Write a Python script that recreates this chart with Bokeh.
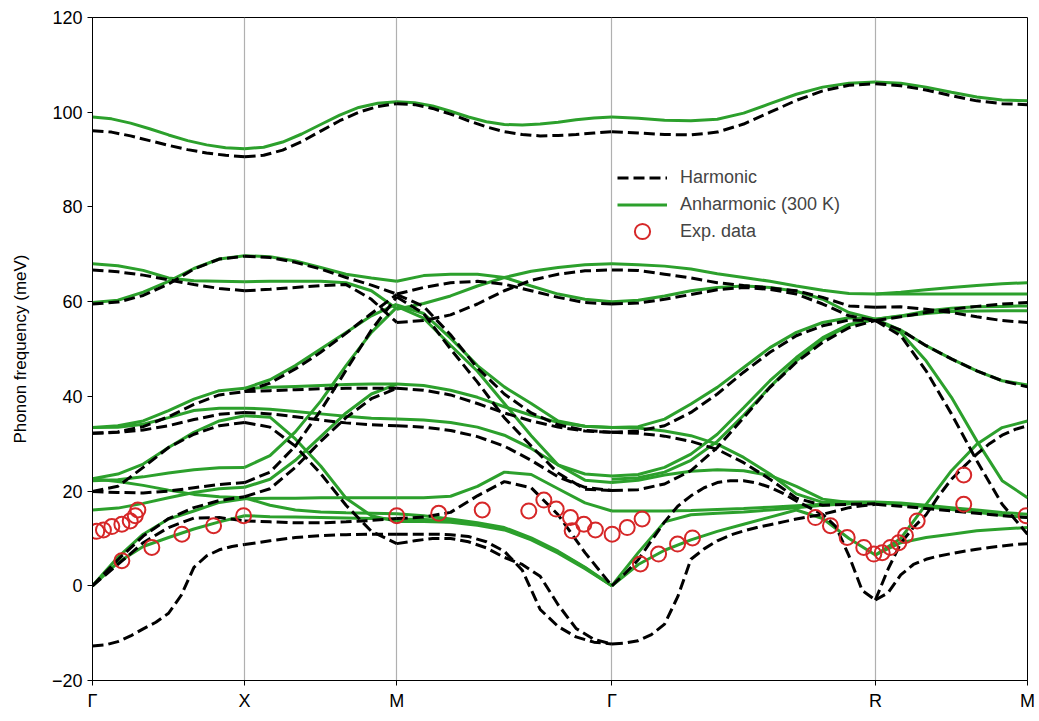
import numpy as np
from bokeh.plotting import figure
from bokeh.models import FixedTicker, Legend, LegendItem, Range1d
from bokeh.embed import file_html
from bokeh.resources import INLINE

# ---------------- data ----------------
node_labels = ["Γ", "X", "M", "Γ", "R", "M"]
seg_lengths = [1.0, 1.0, np.sqrt(2.0), np.sqrt(3.0), 1.0]

# Each segment: list of curves; each curve = energies (meV) at evenly spaced q along the segment
harm_GX = [
    [96.1, 95.8, 95.0, 94.0, 93.0, 92.1, 91.4, 90.9, 90.6],
    [66.7, 66.3, 65.6, 64.6, 63.6, 62.8, 62.3],
    [59.5, 59.9, 61.3, 63.7, 66.9, 69.0, 69.6],
    [32.2, 32.5, 33.6, 35.7, 38.3, 40.3, 41.0],
    [32.2, 32.4, 32.9, 33.8, 35.1, 36.2, 36.6],
    [19.9, 21.0, 25.0, 29.2, 32.0, 33.8, 34.5],
    [19.9, 19.7, 19.6, 20.0, 20.7, 21.4, 21.8],
    [0.0, 5.5, 10.5, 14.2, 16.5, 18.0, 18.8],
    [0.0, 4.5, 9.1, 12.3, 14.3, 14.4, 13.7],
    [-12.7, -12.5, -11.8, -10.6, -9.1, -7.7, -5.8, -2.0, 3.9, 6.3, 7.6, 8.3, 8.7],
]
anh_GX = [
    [99.0, 98.6, 97.7, 96.5, 95.2, 94.0, 93.1, 92.5, 92.3],
    [68.0, 67.6, 66.6, 65.0, 64.4, 64.3, 64.2],
    [59.8, 60.3, 62.0, 64.3, 67.0, 69.0, 69.7],
    [33.4, 33.8, 34.8, 37.0, 39.4, 41.2, 41.7],
    [33.4, 33.5, 34.1, 35.5, 37.0, 37.5, 37.5],
    [22.6, 23.6, 25.7, 29.2, 32.4, 34.8, 35.9],
    [22.2, 22.4, 23.0, 23.8, 24.5, 24.9, 25.0],
    [22.6, 22.0, 21.2, 20.2, 19.3, 18.8, 18.6],
    [16.0, 16.4, 17.4, 18.6, 19.7, 20.5, 20.8],
    [0.0, 6.0, 10.9, 14.1, 15.8, 17.6, 18.4],
    [0.0, 4.9, 8.3, 10.2, 12.0, 13.5, 14.8],
]
harm_XM = [
    [90.6, 90.9, 92.0, 93.8, 96.0, 98.2, 100.0, 101.2, 101.8],
    [69.6, 69.3, 68.3, 66.9, 65.1, 63.5, 61.6],
    [62.3, 62.6, 63.0, 63.4, 63.6, 60.5, 55.6],
    [41.0, 41.2, 41.4, 41.6, 41.7, 41.7, 41.7],
    [41.0, 42.8, 45.8, 49.3, 53.3, 57.5, 61.5],
    [36.6, 36.3, 35.7, 35.0, 34.4, 34.0, 33.8],
    [34.5, 33.5, 29.5, 23.7, 17.0, 11.5, 8.9],
    [21.8, 24.0, 29.5, 37.0, 45.5, 54.0, 61.0],
    [18.8, 20.5, 25.0, 30.5, 35.5, 39.5, 41.7],
    [13.7, 13.5, 13.3, 13.3, 13.5, 13.8, 14.2],
    [8.7, 9.5, 10.2, 10.6, 10.8, 10.9, 10.9],
]
anh_XM = [
    [92.3, 92.6, 93.7, 95.4, 97.4, 99.4, 101.0, 101.9, 102.2],
    [69.7, 69.5, 68.6, 67.2, 65.8, 65.0, 64.3],
    [64.2, 64.3, 64.3, 64.3, 64.0, 62.3, 58.5],
    [41.7, 41.9, 42.1, 42.3, 42.5, 42.6, 42.6],
    [41.7, 43.5, 46.5, 50.0, 53.5, 57.0, 59.5],
    [37.5, 37.3, 36.8, 36.3, 35.8, 35.4, 35.2],
    [35.9, 35.6, 31.0, 25.3, 18.5, 14.8, 13.6],
    [25.0, 27.5, 32.5, 39.0, 46.5, 53.5, 58.8],
    [20.8, 22.5, 26.5, 31.5, 36.5, 40.5, 42.6],
    [18.4, 18.5, 18.5, 18.6, 18.6, 18.6, 18.6],
    [18.6, 17.0, 16.0, 15.6, 15.4, 15.3, 15.2],
    [14.8, 14.6, 14.5, 14.4, 14.3, 14.2, 14.1],
]
harm_MG = [
    [101.8, 101.6, 100.8, 99.6, 98.2, 96.9, 95.9, 95.3, 95.0, 95.1, 95.3, 95.6, 95.9],
    [61.6, 63.0, 64.0, 64.3, 63.7, 62.3, 60.9, 59.8, 59.5],
    [55.6, 56.0, 57.2, 59.5, 62.3, 64.5, 65.8, 66.5, 66.7],
    [61.5, 59.0, 53.0, 46.0, 40.5, 36.5, 34.0, 32.8, 32.4],
    [61.0, 57.5, 50.0, 43.0, 35.5, 29.5, 23.8, 20.4, 20.1],
    [41.7, 41.3, 40.3, 38.5, 36.5, 34.8, 33.5, 32.7, 32.4],
    [33.8, 33.5, 32.8, 31.5, 29.5, 26.5, 23.0, 20.8, 20.1],
    [14.2, 14.5, 15.5, 19.0, 22.0, 20.7, 15.0, 7.0, 0.0],
    [10.9, 10.9, 10.9, 10.8, 10.4, 9.3, 7.3, 3.3, -5.0, -8.6, -10.8, -11.9, -12.3],
    [8.9, 9.5, 10.0, 10.0, 9.3, 8.0, 6.0, 4.5, 2.0, -4.0, -9.0, -11.3, -12.3],
]
anh_MG = [
    [102.2, 102.0, 101.3, 100.2, 99.0, 98.0, 97.4, 97.3, 97.5, 97.9, 98.4, 98.8, 99.0],
    [64.3, 65.5, 65.8, 65.8, 65.1, 63.3, 61.6, 60.5, 60.0],
    [58.4, 59.6, 61.2, 63.3, 65.1, 66.4, 67.2, 67.8, 68.0],
    [59.3, 57.5, 52.3, 46.5, 42.0, 38.5, 34.8, 33.7, 33.4],
    [59.0, 56.5, 50.8, 45.3, 38.5, 31.7, 25.5, 22.3, 21.8],
    [42.6, 42.3, 41.3, 39.8, 37.8, 36.0, 34.5, 33.7, 33.4],
    [35.2, 35.0, 34.5, 33.5, 31.8, 29.0, 25.5, 23.6, 23.2],
    [18.6, 18.6, 18.9, 21.0, 24.0, 23.5, 20.5, 17.5, 15.8],
    [15.2, 14.8, 14.1, 13.3, 12.3, 10.1, 7.3, 3.9, 0.0],
    [14.1, 14.0, 13.8, 13.1, 12.1, 9.9, 7.1, 3.8, 0.0],
    [13.6, 13.6, 13.4, 12.8, 11.8, 9.7, 6.9, 3.6, 0.0],
]
harm_GR = [
    [95.9, 95.6, 95.3, 95.2, 95.8, 97.5, 100.0, 102.5, 104.5, 105.7, 106.0],
    [66.7, 66.6, 65.8, 65.0, 64.0, 63.4, 62.9, 62.3, 60.9, 59.1, 58.8],
    [59.5, 59.7, 60.5, 61.5, 62.5, 63.0, 62.6, 61.6, 59.5, 57.0, 56.0],
    [32.4, 32.7, 33.8, 36.6, 40.5, 45.1, 49.3, 52.8, 54.9, 56.1, 56.0],
    [20.1, 20.3, 21.5, 24.3, 29.2, 35.5, 41.9, 47.2, 51.4, 54.5, 56.0],
    [32.4, 32.2, 31.6, 30.5, 28.8, 26.0, 22.5, 18.5, 17.0, 17.2, 17.3],
    [0.0, 2.6, 5.5, 9.5, 13.5, 16.8, 19.0, 20.7, 21.8, 22.2, 22.2,
     21.7, 20.8, 19.5, 17.9, 16.5, 15.1, 12.5, 6.3, -1.0, -3.0],
    [-12.3, -12.1, -11.6, -10.3, -8.1, -2.3, 5.6, 7.8, 9.5, 10.7, 11.6,
     12.3, 12.9, 13.5, 14.1, 14.6, 15.1, 15.8, 16.5, 16.9, 17.2],
]
anh_GR = [
    [99.0, 98.7, 98.3, 98.2, 98.5, 99.8, 101.8, 103.8, 105.3, 106.1, 106.4],
    [68.0, 67.8, 67.5, 66.9, 65.9, 65.1, 64.3, 63.3, 62.4, 61.7, 61.6],
    [60.0, 60.3, 61.2, 62.3, 63.0, 63.3, 63.0, 62.2, 60.5, 57.7, 56.3],
    [33.4, 33.6, 35.2, 38.4, 41.9, 46.1, 50.3, 53.5, 55.6, 56.6, 56.3],
    [23.2, 23.5, 25.0, 27.8, 32.0, 37.6, 43.3, 48.2, 52.4, 55.2, 56.3],
    [22.5, 22.8, 24.0, 26.5, 30.5, 36.0, 42.0, 47.5, 52.0, 55.0, 56.3],
    [33.4, 33.3, 32.7, 31.7, 29.9, 27.1, 23.6, 19.4, 17.6, 17.7, 17.7],
    [21.8, 22.3, 23.4, 24.2, 24.5, 24.3, 23.3, 21.0, 18.3, 17.6, 17.5],
    [15.8, 15.8, 15.8, 15.9, 16.1, 16.3, 16.6, 16.9, 17.2, 17.4, 17.5],
    [0.0, 7.0, 13.5, 15.0, 15.3, 15.6, 16.0, 16.5, 17.0, 17.3, 17.5],
    [0.0, 4.5, 7.5, 9.7, 11.5, 13.0, 14.5, 16.0, 14.2, 10.0, 6.5],
]
harm_RM = [
    [106.0, 105.6, 104.7, 103.5, 102.4, 101.8, 101.6],
    [58.8, 58.9, 58.4, 57.7, 56.8, 56.0, 55.6],
    [56.0, 56.8, 57.7, 58.4, 59.0, 59.5, 59.8],
    [56.0, 54.0, 50.7, 47.9, 45.4, 43.3, 42.0],
    [56.0, 52.8, 45.4, 36.3, 26.4, 17.2, 10.9],
    [-3.0, 3.5, 9.0, 12.3, 15.0, 19.0, 22.5, 25.2, 27.8, 30.0, 31.8, 33.0, 33.8],
    [-3.0, -1.5, 2.3, 4.5, 5.6, 6.3, 6.8, 7.3, 7.7, 8.1, 8.4, 8.7, 8.9],
    [17.2, 16.8, 16.3, 15.8, 15.3, 14.8, 14.4],
]
anh_RM = [
    [106.4, 106.1, 105.3, 104.2, 103.2, 102.6, 102.4],
    [61.6, 62.0, 62.5, 63.0, 63.4, 63.8, 64.0],
    [61.6, 61.6, 61.6, 61.6, 61.6, 61.6, 61.6],
    [56.3, 57.0, 58.0, 58.6, 58.9, 59.0, 59.1],
    [56.3, 56.9, 57.5, 57.9, 58.0, 58.1, 58.1],
    [56.3, 54.0, 50.7, 47.9, 45.4, 43.3, 42.4],
    [56.3, 53.5, 47.5, 39.8, 30.6, 22.2, 18.6],
    [6.5, 10.0, 17.2, 24.3, 29.9, 33.4, 34.8],
    [6.5, 9.1, 10.2, 10.9, 11.6, 12.0, 12.3],
    [17.7, 17.5, 17.0, 16.5, 16.0, 15.5, 15.1],
    [17.5, 17.2, 16.7, 16.1, 15.5, 14.9, 14.4],
]

# experimental points: path coordinate q and energy (meV)
exp_q = [0.028, 0.072, 0.127, 0.193, 0.248, 0.281, 0.298,
         0.193, 0.390, 0.588, 0.796, 0.993, 2.000,
         2.276, 2.562, 2.868, 2.967, 3.048, 3.142, 3.153, 3.230, 3.306, 3.416,
         3.515, 3.613, 3.602, 3.721, 3.846, 3.944,
         4.752, 4.851, 4.961, 5.070, 5.136, 5.191, 5.245, 5.300, 5.344, 5.421,
         5.727, 5.727, 6.137]
exp_e = [11.5, 11.8, 12.5, 13.0, 13.7, 14.8, 16.0,
         5.3, 8.1, 10.9, 12.7, 14.8, 14.8,
         15.3, 16.0, 15.8, 18.1, 16.2, 14.4, 11.6, 13.0, 11.8, 10.9,
         12.3, 14.1, 4.6, 6.7, 8.8, 10.1,
         14.4, 12.7, 10.2, 8.1, 6.7, 7.0, 8.1, 9.1, 10.6, 13.7,
         23.4, 17.2, 14.8]

# ---------------- build ----------------
node_k = np.concatenate([[0.0], np.cumsum(seg_lengths)])


def to_lines(segments):
    xs, ys = [], []
    for i, seg in enumerate(segments):
        k0, k1 = node_k[i], node_k[i + 1]
        for curve in seg:
            n = len(curve)
            xs.append(list(k0 + (k1 - k0) * np.arange(n) / (n - 1)))
            ys.append(list(curve))
    return xs, ys


hx, hy = to_lines([harm_GX, harm_XM, harm_MG, harm_GR, harm_RM])
ax_, ay_ = to_lines([anh_GX, anh_XM, anh_MG, anh_GR, anh_RM])

FONT = "Liberation Sans"
p = figure(width=1035, height=716, output_backend="svg", toolbar_location=None,
           x_range=Range1d(0, node_k[-1]), y_range=Range1d(-20, 120),
           min_border_left=92, min_border_top=17, min_border_right=8, min_border_bottom=36)
p.background_fill_color = "white"
p.border_fill_color = "white"
p.outline_line_color = "black"
p.outline_line_width = 1

green = p.multi_line(ax_, ay_, line_color="#2ca02c", line_width=3)
black = p.multi_line(hx, hy, line_color="black", line_width=3, line_dash="11 5")
exp = p.scatter(exp_q, exp_e, marker="circle", size=15, fill_color=None,
                line_color="#d62728", line_width=2)

p.xaxis.ticker = FixedTicker(ticks=list(node_k))
p.xaxis.major_label_overrides = {float(k): lab for k, lab in zip(node_k, node_labels)}
p.xgrid.ticker = FixedTicker(ticks=list(node_k))
p.xgrid.grid_line_color = "#b0b0b0"
p.xgrid.grid_line_width = 1.2
p.ygrid.grid_line_color = None

yt = list(range(-20, 121, 20))
p.yaxis.ticker = FixedTicker(ticks=yt)
p.yaxis.major_label_overrides = {t: (str(t) if t >= 0 else "\u2212" + str(-t)) for t in yt}
p.yaxis.axis_label = "Phonon frequency (meV)"

for axis in (p.xaxis, p.yaxis):
    axis.axis_line_color = "black"
    axis.major_tick_line_color = "black"
    axis.minor_tick_line_color = None
    axis.major_tick_in = 0
    axis.major_tick_out = 5
    axis.major_label_text_font = FONT
    axis.major_label_text_font_size = "18px"
    axis.major_label_text_color = "black"
    axis.axis_label_text_font = FONT
    axis.axis_label_text_font_size = "17px"
    axis.axis_label_text_font_style = "normal"
    axis.axis_label_text_color = "black"
p.yaxis.axis_label_standoff = 19


def style_legend(lg, gh):
    lg.border_line_color = None
    lg.background_fill_alpha = 0
    lg.label_text_font = FONT
    lg.label_text_font_size = "18px"
    lg.glyph_width = 50
    lg.glyph_height = gh
    lg.label_height = 20
    lg.label_standoff = 13
    lg.spacing = 0
    lg.padding = 0
    lg.margin = 0


legend1 = Legend(items=[
    LegendItem(label="Harmonic", renderers=[black]),
    LegendItem(label="Anharmonic (300 K)", renderers=[green]),
], location=(525, 462))
style_legend(legend1, 27)
legend2 = Legend(items=[LegendItem(label="Exp. data", renderers=[exp])],
                 location=(525, 430))
style_legend(legend2, 38)
p.add_layout(legend1, "center")
p.add_layout(legend2, "center")

open("out.html", "w").write(file_html(p, INLINE))
